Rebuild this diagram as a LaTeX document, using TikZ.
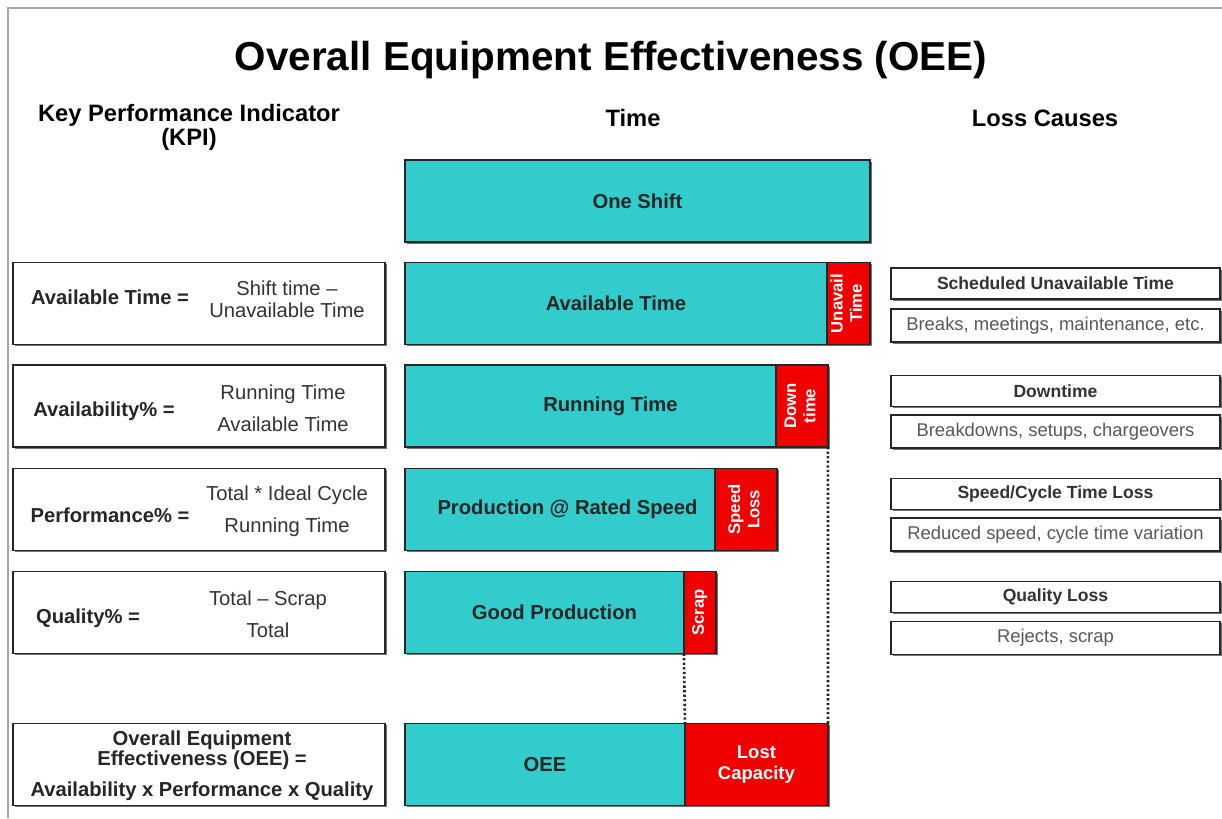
\documentclass[tikz,border=0pt]{standalone}
\usepackage{fontspec}
\setmainfont{Liberation Sans}
\usetikzlibrary{positioning,shadows}
\definecolor{oeeteal}{RGB}{51,204,204}
\definecolor{oeered}{RGB}{240,0,0}
\newcommand{\vlabel}[1]{\rotatebox{90}{\begin{tabular}{@{}c@{}}#1\end{tabular}}}
\tikzset{
  boxline/.style={draw=black!85,line width=0.8pt,inner sep=0pt,outer sep=0pt,
    drop shadow={shadow xshift=1pt,shadow yshift=-1pt,fill=black!55,opacity=1}},
  bar/.style={boxline,fill=oeeteal,anchor=west,minimum height=1.64cm,
    text=black!85,font=\bfseries\fontsize{11.5}{13}\selectfont},
  loss/.style={boxline,fill=oeered,anchor=west,minimum height=1.64cm,
    text=white,align=center,font=\bfseries\fontsize{9.5}{11}\selectfont},
  kpibox/.style={boxline,fill=white,anchor=west,minimum width=7.44cm,minimum height=1.64cm},
  kpiname/.style={font=\bfseries\fontsize{11.5}{13}\selectfont,text=black!85},
  kpiformula/.style={align=center,font=\fontsize{11.5}{12.5}\selectfont,text=black!80},
  causetitle/.style={boxline,fill=white,anchor=west,minimum width=6.58cm,minimum height=0.62cm,
    font=\bfseries\fontsize{10}{12}\selectfont,text=black!80},
  causetext/.style={boxline,fill=white,anchor=west,minimum width=6.58cm,minimum height=0.66cm,
    font=\fontsize{10.5}{12}\selectfont,text=black!65},
  header/.style={align=center,font=\bfseries\fontsize{13.5}{11.5}\selectfont}
}
\begin{document}
\begin{tikzpicture}[x=0.02cm,y=-0.02cm]
  \useasboundingbox (0,0) rectangle (1222,818);
  \draw[black!35,line width=1.5pt] (8,818) -- (8,8) -- (1222,8);

  \node (title) at (611,60) {\bfseries\fontsize{23}{28}\selectfont Overall Equipment Effectiveness (OEE)};
  \node[header] (kpihead) at (189,127) {Key Performance Indicator\\(KPI)};
  \node[header] (timehead) at (633,118) {Time};
  \node[header] (losshead) at (1045,118) {Loss Causes};

  \node[bar,minimum width=9.3cm] (shift) at (405,201) {One Shift};
  \node[bar,minimum width=8.44cm] (avail) at (405,303.5) {Available Time};
  \node[loss,minimum width=0.86cm,right=0pt of avail] (unav) {\vlabel{Unavail\\Time}};
  \node[bar,minimum width=7.42cm] (run) at (405,406) {\hspace{0.8cm}Running Time};
  \node[loss,minimum width=1.04cm,right=0pt of run] (down) {\vlabel{Down\\time}};
  \node[bar,minimum width=6.2cm] (prod) at (405,509.5) {\hspace{0.3cm}Production @ Rated Speed};
  \node[loss,minimum width=1.24cm,right=0pt of prod] (speed) {\vlabel{Speed\\Loss}};
  \node[bar,minimum width=5.58cm] (good) at (405,612.5) {\hspace{0.4cm}Good Production};
  \node[loss,minimum width=0.64cm,right=0pt of good] (scrap) {\vlabel{Scrap}};
  \node[bar,minimum width=5.6cm] (oee) at (405,764.5) {OEE};
  \node[loss,minimum width=2.86cm,right=0pt of oee,font=\bfseries\fontsize{10.5}{11.5}\selectfont] (lost) {Lost\\Capacity};

  \begin{scope}[line width=1.5pt,dash pattern=on 1.3pt off 1.3pt,black!85]
    \draw (down.south east) to (lost.north east);
    \draw (scrap.south west) to (lost.north west);
  \end{scope}

  \node[kpibox] (kpi1) at (13,303.5) {};
  \node[kpiname] (kpi1name) at (110,297) {Available Time =};
  \node[kpiformula] (kpi1form) at (287,299) {Shift time --\\Unavailable Time};
  \node[kpibox] (kpi2) at (13,406) {};
  \node[kpiname] (kpi2name) at (104,411) {Availability\% =};
  \node[kpiformula] (kpi2form) at (283,408.5) {Running Time\\[6pt]Available Time};
  \node[kpibox] (kpi3) at (13,509.5) {};
  \node[kpiname] (kpi3name) at (110,515) {Performance\% =};
  \node[kpiformula] (kpi3form) at (287,511.5) {Total * Ideal Cycle\\[6pt]Running Time};
  \node[kpibox] (kpi4) at (13,612.5) {};
  \node[kpiname] (kpi4name) at (88,618) {Quality\% =};
  \node[kpiformula] (kpi4form) at (268,614.5) {Total -- Scrap\\[6pt]Total};
  \node[kpibox] (kpi5) at (13,764.5) {};
  \node[kpiname,align=center,font=\bfseries\fontsize{11.5}{11}\selectfont] (kpi5name) at (202,766)
    {Overall Equipment\\Effectiveness (OEE) =\\[7pt]Availability x Performance x Quality};

  \node[causetitle] (cause1) at (891,283.5) {Scheduled Unavailable Time};
  \node[causetext] (cause1text) at (891,325.5) {Breaks, meetings, maintenance, etc.};
  \node[causetitle] (cause2) at (891,391) {Downtime};
  \node[causetext] (cause2text) at (891,431.5) {Breakdowns, setups, chargeovers};
  \node[causetitle] (cause3) at (891,494) {Speed/Cycle Time Loss};
  \node[causetext] (cause3text) at (891,534.5) {Reduced speed, cycle time variation};
  \node[causetitle] (cause4) at (891,597) {Quality Loss};
  \node[causetext] (cause4text) at (891,638) {Rejects, scrap};
\end{tikzpicture}
\end{document}
